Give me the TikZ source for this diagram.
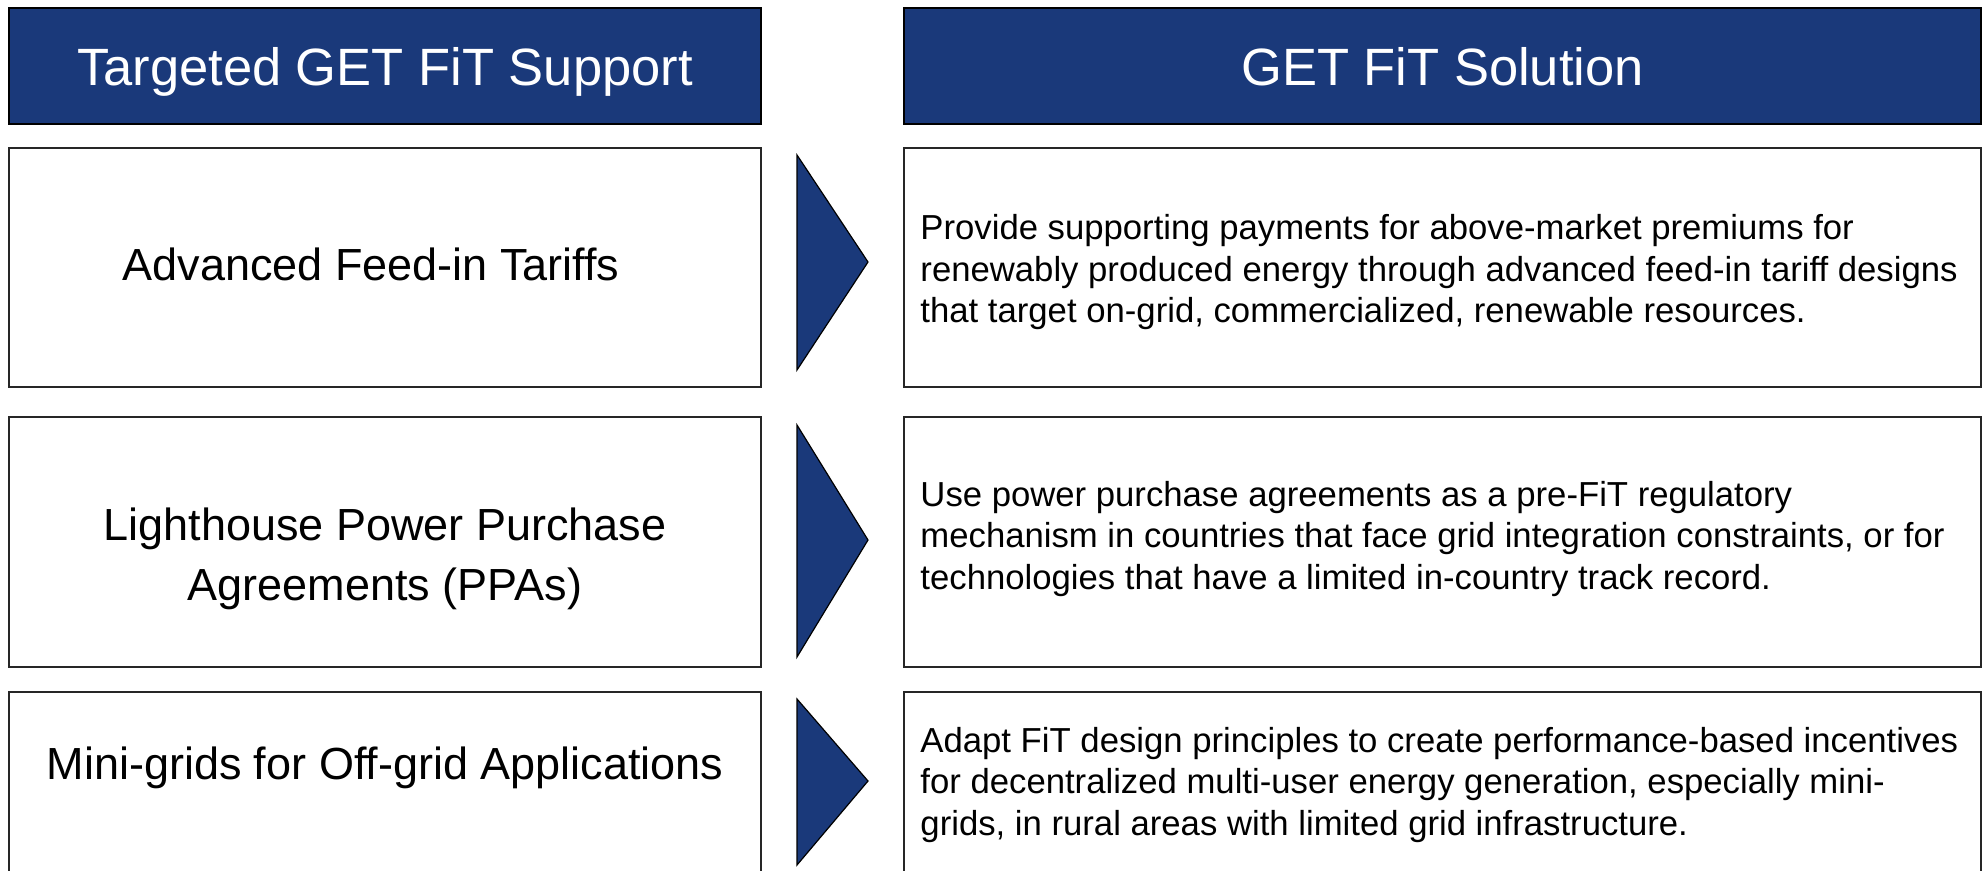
\documentclass[tikz,border=0pt]{standalone}
\usepackage{xcolor}
\usepackage{fontspec}
\setmainfont{Liberation Sans}[Ligatures=NoCommon]
\usepackage{tikz}
\usetikzlibrary{calc}
\definecolor{getblue}{RGB}{26,57,122}
\tikzset{
  headbox/.style={draw=black, line width=1.5pt, fill=getblue, text=white, inner sep=0pt,
    text depth=0pt, minimum height=116pt, font=\fontsize{52.5}{60}\selectfont},
  rowbox/.style={draw=black!85, line width=1.5pt, fill=white, inner sep=0pt},
  tgttext/.style={align=center, inner sep=0pt, font=\fontsize{45}{60}\selectfont},
  soltext/.style={align=left, anchor=west, inner sep=0pt, font=\fontsize{34.7}{41.5}\selectfont},
  chev/.style={draw=black, line width=1.2pt, fill=getblue, line join=miter},
}

\begin{document}
\begin{tikzpicture}[
			x = 1pt, y = -1pt,
			every node/.style = {scale = 1}
			]

			\useasboundingbox (0,0) rectangle (1988,870);

			\def\lx{385}
			\def\rx{1442.5}
			\def\lw{752pt}
			\def\rw{1077pt}

			% column heads
			\node[headbox,minimum width=\lw] (headTgt) at (\lx,66) {Targeted GET FiT Support};
			\node[headbox,minimum width=\rw] (headSol) at (\rx,66) {GET FiT Solution};

			% rows
			\node[rowbox,minimum width=\lw,minimum height=239pt] (tgt1) at (\lx,267.5) {};
			\node[rowbox,minimum width=\rw,minimum height=239pt] (sol1) at (\rx,267.5) {};
			\node[rowbox,minimum width=\lw,minimum height=250pt] (tgt2) at (\lx,542) {};
			\node[rowbox,minimum width=\rw,minimum height=250pt] (sol2) at (\rx,542) {};
			\node[rowbox,minimum width=\lw,minimum height=180pt] (tgt3) at (\lx,782) {};
			\node[rowbox,minimum width=\rw,minimum height=180pt] (sol3) at (\rx,782) {};

			\node[tgttext] (tgt1txt) at ($(tgt1)+(-14,-3)$) {Advanced Feed-in Tariffs};
			\node[tgttext] (tgt2txt) at ($(tgt2)+(0,17)$) {Lighthouse Power Purchase\\Agreements (PPAs)};
			\node[tgttext] (tgt3txt) at ($(tgt3)+(0,-14)$) {Mini-grids for Off-grid Applications};

			\node[soltext] (sol1txt) at ($(sol1.west)+(17,5)$) {Provide supporting payments for above-market premiums for\\renewably produced energy through advanced feed-in tariff designs\\that target on-grid, commercialized, renewable resources.};
			\node[soltext] (sol2txt) at ($(sol2.west)+(17,-3)$) {Use power purchase agreements as a pre-FiT regulatory\\mechanism in countries that face grid integration constraints, or for\\technologies that have a limited in-country track record.};
			\node[soltext] (sol3txt) at ($(sol3.west)+(17,3)$) {Adapt FiT design principles to create performance-based incentives\\for decentralized multi-user energy generation, especially mini-\\grids, in rural areas with limited grid infrastructure.};

			% chevrons between the columns
			\foreach \t/\b/\m in {155/370/262, 425/657/540, 699/865/781}
				\draw[chev] (797,\t) -- (868,\m) -- (797,\b) -- cycle;

		\end{tikzpicture}
\end{document}
